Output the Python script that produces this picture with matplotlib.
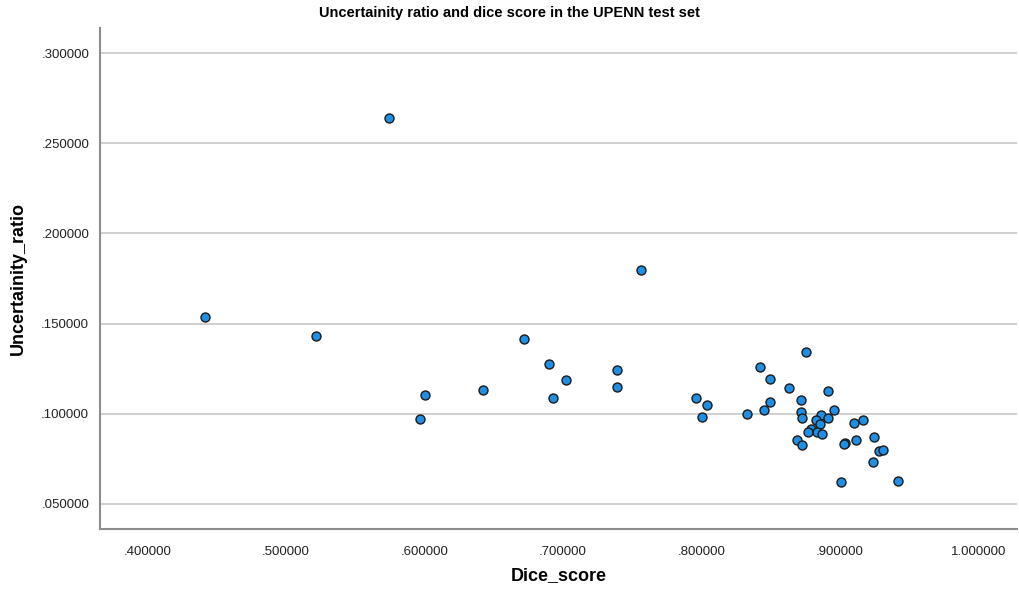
import matplotlib
matplotlib.use("Agg")
import matplotlib.pyplot as plt

# Values
dice_score = [
    0.4415, 0.5217, 0.5744, 0.6004, 0.5967, 0.6422, 0.6723, 0.6897,
    0.7024, 0.6933, 0.7390, 0.7390, 0.7962, 0.8045, 0.8004, 0.7568,
    0.8757, 0.8427, 0.8495, 0.8632, 0.8916, 0.8497, 0.8723, 0.8454,
    0.8329, 0.8720, 0.8726, 0.8957, 0.8863, 0.8827, 0.8918, 0.8861,
    0.8791, 0.8774, 0.8839, 0.8872, 0.9101, 0.9166, 0.8690, 0.8731,
    0.9036, 0.9029, 0.9120, 0.9248, 0.9282, 0.9313, 0.9243, 0.9012,
    0.9419,
]
uncertainty_ratio = [
    0.1536, 0.1431, 0.2641, 0.1103, 0.0968, 0.1133, 0.1416, 0.1277,
    0.1188, 0.1087, 0.1240, 0.1149, 0.1087, 0.1050, 0.0983, 0.1797,
    0.1340, 0.1257, 0.1192, 0.1144, 0.1127, 0.1065, 0.1076, 0.1018,
    0.0996, 0.1011, 0.0974, 0.1018, 0.0991, 0.0963, 0.0974, 0.0942,
    0.0915, 0.0900, 0.0900, 0.0887, 0.0946, 0.0963, 0.0852, 0.0826,
    0.0839, 0.0831, 0.0852, 0.0870, 0.0791, 0.0800, 0.0733, 0.0619,
    0.0628,
]
x_ticks = [0.4, 0.5, 0.6, 0.7, 0.8, 0.9, 1.0]
y_ticks = [0.05, 0.10, 0.15, 0.20, 0.25, 0.30]

plt.rcParams["font.family"] = ["Liberation Sans", "DejaVu Sans"]

fig = plt.figure(figsize=(10.19, 5.96), dpi=100)
ax = fig.add_axes([0.0984, 0.1124, 0.8996, 0.8406])

ax.scatter(dice_score, uncertainty_ratio, s=42, color="#1e8fe3",
           edgecolors="#1a1a1a", linewidths=1.0, zorder=3)

ax.set_xlim(0.366, 1.028)
ax.set_ylim(0.036, 0.314)
ax.set_xticks(x_ticks)
ax.set_yticks(y_ticks)
ax.set_xticklabels(["1.000000" if v == 1.0 else f"{v:.6f}"[1:] for v in x_ticks])
ax.set_yticklabels([f"{v:.6f}"[1:] for v in y_ticks])
ax.tick_params(length=0, labelsize=9.5, colors="#222222")
ax.tick_params(axis="x", pad=12)
ax.tick_params(axis="y", pad=8)

ax.yaxis.grid(True, color="#cccccc", linewidth=1.3)
ax.set_axisbelow(True)
for side in ["top", "right"]:
    ax.spines[side].set_visible(False)
for side in ["left", "bottom"]:
    ax.spines[side].set_color("#8c8c8c")
    ax.spines[side].set_linewidth(1.5)

ax.set_xlabel("Dice_score", fontsize=13, fontweight="bold", labelpad=7)
ax.set_ylabel("Uncertainity_ratio", fontsize=13, fontweight="bold", labelpad=10)
fig.suptitle("Uncertainity ratio and dice score in the UPENN test set",
             fontsize=10.5, fontweight="bold", y=0.99,
             family=["Liberation Sans Narrow", "Liberation Sans", "DejaVu Sans"])

fig.savefig("out.png", dpi=100)
